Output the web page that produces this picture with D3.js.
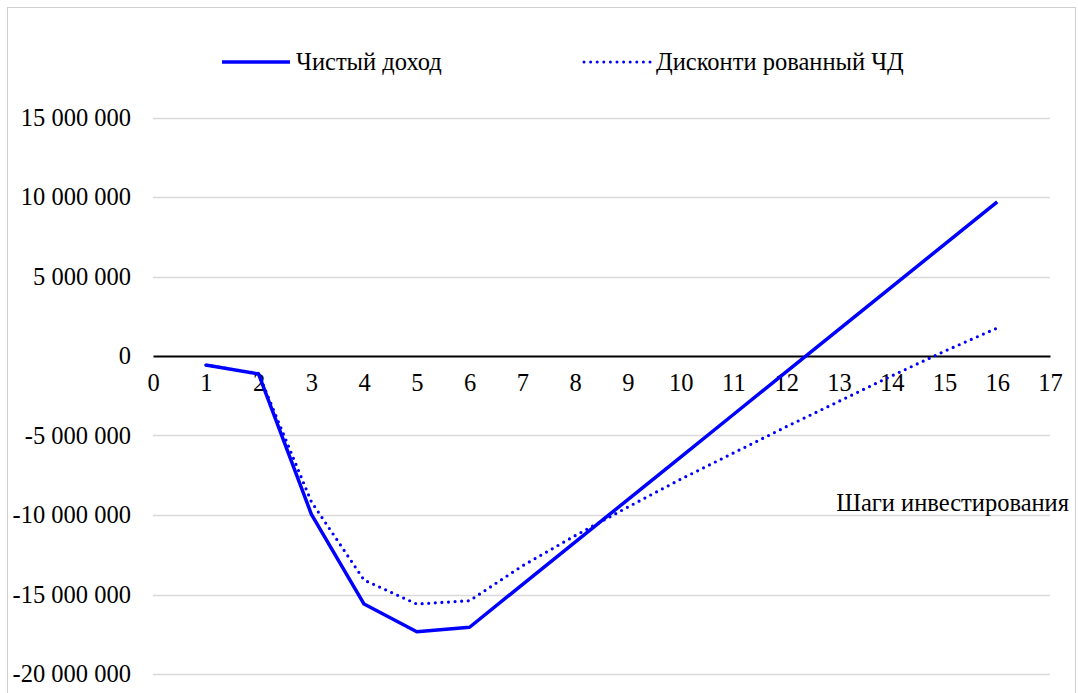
<!DOCTYPE html>
<html>
<head>
<meta charset="utf-8">
<script src="https://cdn.jsdelivr.net/npm/d3@7"></script>
<style>
  html, body { margin: 0; padding: 0; background: #fff; }
</style>
</head>
<body>
<svg id="chart" width="1078" height="693"></svg>
<script>
// Investment steps and cumulative income series
const steps = [1, 2, 3, 4, 5, 6, 7, 8, 9, 10, 11, 12, 13, 14, 15, 16];
const netIncome = [-570000, -1130000, -9940000, -15600000, -17340000, -17060000,
  -14380000, -11710000, -9030000, -6360000, -3680000, -1000000,
  1670000, 4350000, 7020000, 9700000];
const discountedIncome = [-570000, -1100000, -9160000, -14090000, -15600000, -15390000,
  -13200000, -11300000, -9500000, -7750000, -6100000, -4450000,
  -2850000, -1250000, 300000, 1760000];
const seriesNames = ["Чистый доход", "Дисконти рованный ЧД"];
const xTicks = d3.range(0, 18);
const yTicks = [-20000000, -15000000, -10000000, -5000000, 0, 5000000, 10000000, 15000000];
const xTitle = "Шаги инвестирования";

const svg = d3.select("#chart");
const FS = 24.5;
const FONT = "'Liberation Serif', 'Times New Roman', serif";

// chart frame
svg.append("rect")
  .attr("x", 7.5).attr("y", 7.5)
  .attr("width", 1068).attr("height", 700)
  .attr("fill", "#fff").attr("stroke", "#d0d0d0").attr("stroke-width", 1);

const plot = { left: 153, right: 1050, top: 117.5, bottom: 674 };

const x = d3.scaleLinear().domain([0, 17]).range([plot.left, plot.right]);
const y = d3.scaleLinear().domain([-20000000, 15000000]).range([plot.bottom, plot.top]);

// thousands separated by spaces, plain hyphen for negatives
const fmt = v => d3.format(",")(v).replace(/,/g, " ").replace("\u2212", "-");

// horizontal gridlines
svg.append("g")
  .selectAll("line")
  .data(yTicks.filter(v => v !== 0))
  .join("line")
  .attr("x1", plot.left).attr("x2", plot.right)
  .attr("y1", d => Math.round(y(d)) + 0.5).attr("y2", d => Math.round(y(d)) + 0.5)
  .attr("stroke", "#d9d9d9").attr("stroke-width", 1.3);

// y-axis tick labels
const yAxis = d3.axisLeft(y).tickValues(yTicks).tickFormat(fmt).tickSize(0).tickPadding(0);
const gy = svg.append("g").attr("transform", `translate(${plot.left - 22},0)`).call(yAxis);
gy.select(".domain").remove();
gy.selectAll("text").attr("fill", "#000")
  .style("font-family", FONT).style("font-size", FS + "px");

// x axis along zero
const xAxis = d3.axisBottom(x).tickValues(xTicks).tickFormat(d3.format("d")).tickSize(0).tickPadding(18);
const gx = svg.append("g").attr("transform", `translate(0,${y(0)})`).call(xAxis);
gx.select(".domain").attr("stroke", "#000").attr("stroke-width", 2);
gx.selectAll("text").attr("fill", "#000")
  .style("font-family", FONT).style("font-size", FS + "px");

// x-axis title
svg.append("text")
  .attr("x", 1069).attr("y", 511)
  .attr("text-anchor", "end")
  .attr("fill", "#000")
  .style("font-family", FONT).style("font-size", FS + "px")
  .text(xTitle);

const line = d3.line().x((d, i) => x(steps[i])).y(d => y(d));

// discounted series (round dots)
svg.append("path")
  .datum(discountedIncome)
  .attr("d", line)
  .attr("fill", "none").attr("stroke", "#0000ff").attr("stroke-width", 3.2)
  .attr("stroke-dasharray", "0 6.6").attr("stroke-linecap", "round");

// net income series
svg.append("path")
  .datum(netIncome)
  .attr("d", line)
  .attr("fill", "none").attr("stroke", "#0000ff").attr("stroke-width", 3.5)
  .attr("stroke-linejoin", "round");

// legend
const legend = svg.append("g");
const legendItems = [
  { name: seriesNames[0], x1: 222, x2: 290, dashed: false },
  { name: seriesNames[1], x1: 584, x2: 650, dashed: true }
];
legendItems.forEach(it => {
  const ln = legend.append("line")
    .attr("x1", it.x1).attr("x2", it.x2).attr("y1", 62).attr("y2", 62)
    .attr("stroke", "#0000ff");
  if (it.dashed) {
    ln.attr("stroke-width", 3).attr("stroke-dasharray", "0 6.6").attr("stroke-linecap", "round");
  } else {
    ln.attr("stroke-width", 3.5);
  }
  legend.append("text")
    .attr("x", it.x2 + 6).attr("y", 70)
    .attr("fill", "#000")
    .style("font-family", FONT).style("font-size", FS + "px")
    .text(it.name);
});
</script>
</body>
</html>
